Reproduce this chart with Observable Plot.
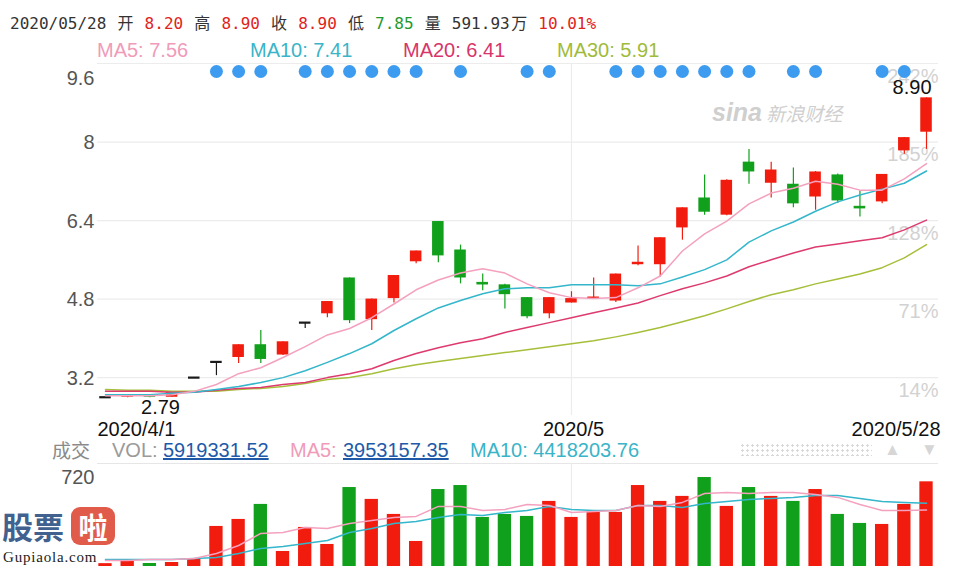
<!DOCTYPE html>
<html>
<head>
<meta charset="utf-8">
<script src="https://cdn.jsdelivr.net/npm/d3@7"></script>
<script src="https://cdn.jsdelivr.net/npm/@observablehq/plot@0.6"></script>
<style>
  html, body { margin: 0; padding: 0; background: #fff; }
  #wrap { position: relative; width: 956px; height: 568px; overflow: hidden; background: #fff; font-family: 'Liberation Sans', Arial, sans-serif; }
  #wrap svg { position: absolute; left: 0; }
  .abs { position: absolute; white-space: nowrap; }
  .hdr { font-family: 'DejaVu Sans Mono', 'Liberation Mono', monospace; font-size: 16px; line-height: 20px; color: #333; }
  .cj { display: inline-block; width: 19px; text-align: center; font-family: 'Noto Sans CJK SC', sans-serif; font-size: 16px; }
  .red { color: #e0231b; }
  .grn { color: #1f9a2c; }
  .ma { font-size: 20px; line-height: 22px; }
  .vh { font-size: 20px; line-height: 20px; top: 440px; }
  .lnk { color: #1e5aa8; text-decoration: underline; }
</style>
</head>
<body>
<div id="wrap"></div>
<script>
// ---------- data ----------
const dates = ["2020-04-01","2020-04-02","2020-04-03","2020-04-07","2020-04-08","2020-04-09","2020-04-10",
  "2020-04-13","2020-04-14","2020-04-15","2020-04-16","2020-04-17","2020-04-20","2020-04-21","2020-04-22",
  "2020-04-23","2020-04-24","2020-04-27","2020-04-28","2020-04-29","2020-04-30","2020-05-06","2020-05-07",
  "2020-05-08","2020-05-11","2020-05-12","2020-05-13","2020-05-14","2020-05-15","2020-05-18","2020-05-19",
  "2020-05-20","2020-05-21","2020-05-22","2020-05-25","2020-05-26","2020-05-27","2020-05-28"];
const opens  = [2.80,2.80,2.84,2.80,3.20,3.52,3.61,3.87,3.66,4.32,4.50,5.23,4.38,4.81,5.56,6.38,5.80,5.14,5.09,4.83,
                4.50,4.72,4.81,4.76,5.50,5.50,6.25,6.86,6.51,7.59,7.16,7.14,6.88,7.33,6.69,6.78,7.82,8.20];
const highs  = [2.80,2.85,2.85,2.91,3.20,3.52,3.87,4.16,3.93,4.32,4.75,5.23,4.80,5.28,5.78,6.38,5.90,5.31,5.10,4.83,
                4.83,4.95,5.23,5.31,5.88,6.05,6.66,7.33,7.23,7.85,7.59,7.47,7.40,7.35,7.00,7.34,8.09,8.90];
const lows   = [2.79,2.79,2.79,2.80,3.20,3.24,3.49,3.49,3.65,4.20,4.42,4.30,4.16,4.72,5.52,5.54,5.11,4.97,4.60,4.40,
                4.40,4.72,4.80,4.73,5.48,5.25,6.00,6.51,6.50,7.14,6.86,6.66,6.61,6.75,6.47,6.74,7.75,7.85];
const closes = [2.80,2.84,2.80,2.91,3.20,3.52,3.87,3.57,3.93,4.32,4.75,4.36,4.80,5.28,5.78,5.68,5.23,5.12,4.89,4.44,
                4.83,4.81,4.83,5.31,5.55,6.05,6.66,6.57,7.22,7.39,7.43,6.74,7.39,6.80,6.67,7.34,8.09,8.90];
const volumes = [20,35,21,28,56,280,329,434,105,273,154,552,469,364,175,538,566,343,364,350,
                 455,343,378,378,566,455,490,622,420,552,490,455,538,364,301,294,434,591.93]; // 万
const ma5  = [2.83,2.83,2.83,2.85,2.92,3.06,3.28,3.40,3.61,3.83,4.07,4.20,4.42,4.70,4.99,5.19,5.33,5.42,5.33,5.11,
              4.93,4.83,4.81,4.83,5.03,5.27,5.78,6.13,6.39,6.74,6.96,7.06,7.20,7.14,7.02,7.02,7.25,7.56];
const ma10 = [2.85,2.85,2.85,2.88,2.90,2.96,3.02,3.10,3.20,3.34,3.51,3.69,3.89,4.16,4.40,4.62,4.77,4.91,5.01,5.03,
              5.03,5.09,5.09,5.09,5.07,5.11,5.25,5.40,5.60,5.96,6.19,6.37,6.59,6.78,6.92,7.04,7.16,7.41];
const ma20 = [2.92,2.92,2.92,2.90,2.90,2.94,2.98,3.00,3.06,3.10,3.20,3.28,3.38,3.55,3.69,3.81,3.91,3.99,4.12,4.22,
              4.32,4.42,4.52,4.62,4.72,4.87,5.01,5.13,5.27,5.46,5.60,5.74,5.86,5.92,5.99,6.05,6.21,6.41];
const ma30 = [2.96,2.94,2.94,2.92,2.92,2.92,2.96,2.98,3.02,3.08,3.16,3.20,3.28,3.38,3.46,3.53,3.59,3.65,3.71,3.77,
              3.83,3.89,3.95,4.03,4.12,4.22,4.34,4.46,4.60,4.75,4.89,4.99,5.11,5.21,5.31,5.44,5.64,5.91];
const volMa5  = [42,42,49,49,56,91,147,231,238,273,266,301,322,343,350,420,420,392,399,434,
                 427,378,385,392,427,420,448,510,517,510,517,517,503,483,434,392,392,395.3];
const volMa10 = [49,49,49,49,56,63,91,126,140,161,182,238,266,301,315,343,364,357,378,392,
                 420,399,392,392,427,427,413,441,455,469,476,483,497,497,476,455,448,441.8];
const volLastText = "5919331.52";
const volMa5LastText = "3953157.35";
const volMa10LastText = "4418203.76";
const markedDays = [5,6,7,9,10,11,12,13,14,16,19,20,23,24,25,26,27,28,29,31,32,35,36]; // blue markers
const yTicks = [3.2, 4.8, 6.4, 8, 9.6];
const yTickLabels = ["3.2", "4.8", "6.4", "8", "9.6"];
const pctLabels = ["14%", "71%", "128%", "185%", "242%"];
const xTickDates = ["2020-04-01", "2020-05-06", "2020-05-28"];
const xTickLabels = ["2020/4/1", "2020/5", "2020/5/28"];
const volTicks = [720];
const volTickLabels = ["720"];

// ---------- build ----------
const UP = "#f21c0e", DOWN = "#10a01b", FLAT = "#1a1a1a";
const C5 = "#f4a1bf", C10 = "#34b6cb", C20 = "#dd3a6e", C30 = "#a6bf3a";
const n = dates.length;
const idx = d3.range(n);
const rows = idx.map(i => ({
  i, date: dates[i], open: opens[i], high: highs[i], low: lows[i], close: closes[i], vol: volumes[i],
  prev: i > 0 ? closes[i - 1] : closes[i]
}));
const candleColor = d => d.close > d.open ? UP : d.close < d.open ? DOWN : FLAT;
const volColor = d => d.close > d.open ? UP : d.close < d.open ? DOWN : (d.close >= d.prev ? UP : DOWN);
const tickIdx = xTickDates.map(t => dates.indexOf(t));
const xDomain = [-0.36, n - 1 + 0.54];
const hi = d3.maxIndex(highs), lo = d3.minIndex(lows);
const FONT = "'Liberation Sans', Arial, sans-serif";
const BW = 0.26, VW = 0.3, LW = 1.5;

const price = Plot.plot({
  width: 956, height: 440,
  marginLeft: 97, marginRight: 18, marginTop: 63, marginBottom: 25,
  x: {type: "linear", domain: xDomain, axis: null},
  y: {domain: [2.428, 9.6], axis: null},
  style: {fontFamily: FONT, fontSize: "20px", background: "transparent", overflow: "visible"},
  marks: [
    Plot.ruleY(yTicks, {stroke: "#ececec", strokeWidth: 1.2}),
    Plot.ruleX([tickIdx[1]], {stroke: "#ececec", strokeWidth: 1.2}),
    Plot.text(yTicks.slice(0, 4), {y: d => d, text: (d, j) => yTickLabels[j], frameAnchor: "left", textAnchor: "end", dx: -3, dy: 1, fill: "#555", fontSize: 20}),
    Plot.text(yTicks.slice(4), {y: d => d, text: () => yTickLabels[4], frameAnchor: "left", textAnchor: "end", dx: -3, dy: 15, fill: "#555", fontSize: 20}),
    Plot.text(yTicks, {y: d => d, text: (d, j) => pctLabels[j], frameAnchor: "right", textAnchor: "end", dy: 13, fill: "#d2d2d2", fontSize: 20}),
    Plot.text([tickIdx[0]], {x: d => d, text: () => xTickLabels[0], frameAnchor: "bottom", lineAnchor: "middle", textAnchor: "start", dx: -8, dy: 14, fill: "#111", fontSize: 20}),
    Plot.text([tickIdx[1]], {x: d => d, text: () => xTickLabels[1], frameAnchor: "bottom", lineAnchor: "middle", textAnchor: "middle", dx: 2, dy: 14, fill: "#111", fontSize: 20}),
    Plot.text([tickIdx[2]], {x: d => d, text: () => xTickLabels[2], frameAnchor: "bottom", lineAnchor: "middle", textAnchor: "end", dx: 14, dy: 14, fill: "#111", fontSize: 20}),
    Plot.ruleX(rows, {x: "i", y1: "low", y2: "high", stroke: candleColor, strokeWidth: 1.2}),
    Plot.rect(rows, {x1: d => d.i - BW, x2: d => d.i + BW, y1: "open", y2: "close", fill: candleColor}),
    Plot.ruleY(rows.filter(d => Math.abs(d.open - d.close) < 0.03), {y: "close", x1: d => d.i - BW, x2: d => d.i + BW, stroke: candleColor, strokeWidth: 2.2}),
    Plot.line(idx, {x: i => i, y: i => ma30[i], stroke: C30, strokeWidth: LW}),
    Plot.line(idx, {x: i => i, y: i => ma20[i], stroke: C20, strokeWidth: LW}),
    Plot.line(idx, {x: i => i, y: i => ma10[i], stroke: C10, strokeWidth: LW}),
    Plot.line(idx, {x: i => i, y: i => ma5[i], stroke: C5, strokeWidth: LW}),
    Plot.dot(markedDays, {x: d => d, frameAnchor: "top", dy: 8, r: 6.5, fill: "#3d9cf0"}),
    Plot.text([hi], {x: d => d, y: d => highs[d], text: d => highs[d].toFixed(2), textAnchor: "end", dx: 5, dy: -10, fill: "#111", fontSize: 20}),
    Plot.text([lo], {x: d => d, y: d => lows[d], text: d => lows[d].toFixed(2), textAnchor: "middle", dx: 55, dy: 10, fill: "#111", fontSize: 20})
  ]
});
price.style.top = "0px";

const vol = Plot.plot({
  width: 956, height: 128,
  marginLeft: 97, marginRight: 18, marginTop: 23, marginBottom: 2,
  x: {type: "linear", domain: xDomain, axis: null},
  y: {domain: [0, 720], axis: null},
  style: {fontFamily: FONT, fontSize: "20px", background: "transparent", overflow: "visible"},
  marks: [
    Plot.ruleY(volTicks, {stroke: "#e6e6e6", strokeWidth: 1.2}),
    Plot.ruleX([tickIdx[1]], {stroke: "#ececec", strokeWidth: 1.2}),
    Plot.text(volTicks, {y: d => d, text: (d, j) => volTickLabels[j], frameAnchor: "left", textAnchor: "end", dx: -3, dy: 14, fill: "#555", fontSize: 20}),
    Plot.rect(rows, {x1: d => d.i - VW, x2: d => d.i + VW, y1: 0, y2: "vol", fill: volColor}),
    Plot.line(idx, {x: i => i, y: i => volMa10[i], stroke: C10, strokeWidth: LW}),
    Plot.line(idx, {x: i => i, y: i => volMa5[i], stroke: C5, strokeWidth: LW})
  ]
});
vol.style.top = "440px";

const wrap = document.getElementById("wrap");
wrap.appendChild(price);
wrap.appendChild(vol);

const last = n - 1;
const fmt = v => v.toFixed(2);
const chg = ((closes[last] / closes[last - 1] - 1) * 100).toFixed(2) + "%";
const html = `
<div class="abs hdr" style="left:10px;top:12px;">${dates[last].replace(/-/g, "/")} <span class="cj">开</span> <span class="red">${fmt(opens[last])}</span> <span class="cj">高</span> <span class="red">${fmt(highs[last])}</span> <span class="cj">收</span> <span class="red">${fmt(closes[last])}</span> <span class="cj">低</span> <span class="grn">${fmt(lows[last])}</span> <span class="cj">量</span> ${fmt(volumes[last])}<span class="cj">万</span> <span class="red">${chg}</span></div>
<div class="abs ma" style="left:97px;top:39px;color:#f09bb9;">MA5: ${fmt(ma5[last])}</div>
<div class="abs ma" style="left:250px;top:39px;color:#3ab4c8;">MA10: ${fmt(ma10[last])}</div>
<div class="abs ma" style="left:403px;top:39px;color:#d8356b;">MA20: ${fmt(ma20[last])}</div>
<div class="abs ma" style="left:557px;top:39px;color:#9fbb3a;">MA30: ${fmt(ma30[last])}</div>
<div class="abs" style="left:712px;top:98px;color:#cfcfcf;font-style:italic;"><span style="font-weight:bold;font-size:25px;">sina</span><span style="font-family:'Noto Sans CJK SC';font-size:19px;"> 新浪财经</span></div>
<div class="abs vh" style="left:52px;color:#8a8a8a;font-family:'Noto Sans CJK SC',sans-serif;font-size:19px;">成交</div>
<div class="abs vh" style="left:112px;color:#9a9a9a;">VOL:</div>
<div class="abs vh lnk" style="left:163px;">${volLastText}</div>
<div class="abs vh" style="left:290px;color:#f09bb9;">MA5:</div>
<div class="abs vh lnk" style="left:343px;">${volMa5LastText}</div>
<div class="abs vh" style="left:470px;color:#3ab4c8;">MA10: ${volMa10LastText}</div>
<div class="abs" style="left:740px;top:443px;width:132px;height:13px;background-image:radial-gradient(#d9d9d9 1px, transparent 1.3px);background-size:5px 5px;"></div>
<div class="abs" style="left:884px;top:440px;color:#d6d6d6;font-size:17px;">▲</div>
<div class="abs" style="left:921px;top:440px;color:#d6d6d6;font-size:17px;">▼</div>
<div class="abs" style="left:2px;top:509px;color:#41618f;font-family:'Noto Sans CJK SC',sans-serif;font-weight:bold;font-size:31px;line-height:34px;">股票</div>
<div class="abs" style="left:71px;top:507px;width:44px;height:38px;border-radius:9px;background:#e15b4b;color:#fff;font-family:'Noto Sans CJK SC',sans-serif;font-weight:bold;font-size:29px;line-height:38px;text-align:center;">啦</div>
<div class="abs" style="left:3px;top:549px;color:#222;font-family:'Liberation Serif','DejaVu Serif',serif;font-size:15px;line-height:16px;letter-spacing:0.8px;text-shadow:0 0 2px #fff,0 0 2px #fff;">Gupiaola.com</div>
`;
wrap.insertAdjacentHTML("beforeend", html);
</script>
</body>
</html>
